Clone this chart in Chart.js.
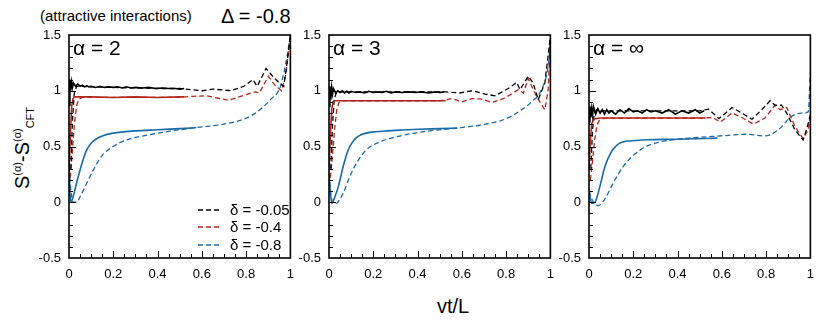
<!DOCTYPE html>
<html>
<head>
<meta charset="utf-8">
<script src="https://cdn.jsdelivr.net/npm/chart.js@4.4.1/dist/chart.umd.min.js"></script>
<style>
  body { margin: 0; background: #fff; font-family: "Liberation Sans", Arial, sans-serif; }
  #wrap { position: relative; width: 830px; height: 329px; overflow: hidden; }
  canvas { position: absolute; top: 0; }
  .txt { position: absolute; white-space: nowrap; color: #000; line-height: 1; }
  #ytitle { position: absolute; left: 0; top: 0; white-space: nowrap; font-size: 20px; line-height: 1;
            transform: translate(-50%, -50%) rotate(-90deg); }
  #ytitle sup, #ytitle sub { font-size: 11px; line-height: 0; }
</style>
</head>
<body>
<div id="wrap">
  <div class="txt" style="left:40px; top:8px; font-size:15px;">(attractive interactions)</div>
  <div class="txt" style="left:221px; top:6px; font-size:20px;">Δ = -0.8</div>
  <div style="position:absolute; left:22px; top:148px; width:0; height:0;">
    <div id="ytitle">S<sup>(α)</sup>-S<sup>(α)</sup><sub>CFT</sub></div>
  </div>
  <div class="txt" style="left:437px; top:296px; font-size:20px;">vt/L</div>
  <canvas id="c1" width="268" height="283" style="left:35px"></canvas>
  <canvas id="c2" width="268" height="283" style="left:295px"></canvas>
  <canvas id="c3" width="268" height="283" style="left:555px"></canvas>
</div>
<script>
// legend / colours
const deltaLabels = ['δ = -0.05', 'δ = -0.4', 'δ = -0.8']
const deltaColors = ['#000000', '#b3261c', '#1a6aa8']
const panelLabels = ['α = 2', 'α = 3', 'α = ∞']
const xTicks = [0, 0.2, 0.4, 0.6, 0.8, 1]
const yTicks = [-0.5, 0, 0.5, 1, 1.5]

// shared x grid for the noisy solid black curves
const blackSolidX = [0, 0.004, 0.008, 0.012, 0.016, 0.02, 0.03, 0.04, 0.05, 0.06, 0.07, 0.08, 0.09, 0.1, 0.12, 0.14, 0.16, 0.18, 0.2, 0.22, 0.24, 0.26, 0.28, 0.3, 0.33, 0.36, 0.39, 0.42, 0.45, 0.48, 0.5, 0.52]

// alpha = 2
const a2BlackSolidY = [0.87, 1.1, 1.0, 1.08, 1.03, 1.07, 1.04, 1.06, 1.04, 1.05, 1.035, 1.045, 1.035, 1.04, 1.03, 1.04, 1.03, 1.035, 1.03, 1.035, 1.025, 1.035, 1.025, 1.03, 1.025, 1.03, 1.02, 1.025, 1.02, 1.02, 1.015, 1.02]
const a2BlackDashX = [0.008, 0.016, 0.024, 0.035, 0.05, 0.1, 0.2, 0.3, 0.4, 0.5, 0.55, 0.6, 0.65, 0.73, 0.79, 0.83, 0.85, 0.89, 0.92, 0.95, 0.97, 0.985, 1.0]
const a2BlackDashY = [0.3, 0.75, 0.98, 1.04, 1.04, 1.035, 1.03, 1.025, 1.02, 1.02, 1.01, 1.0, 1.015, 1.0, 1.04, 1.1, 1.04, 1.2, 1.13, 1.07, 1.04, 1.25, 1.5]
const a2RedSolidX = [0, 0.006, 0.012, 0.018, 0.025, 0.04, 0.1, 0.2, 0.3, 0.4, 0.5, 0.52]
const a2RedSolidY = [0.28, 0.6, 0.86, 0.93, 0.945, 0.945, 0.945, 0.94, 0.945, 0.94, 0.945, 0.945]
const a2RedDashX = [0.006, 0.015, 0.025, 0.035, 0.045, 0.06, 0.1, 0.2, 0.3, 0.4, 0.5, 0.56, 0.62, 0.67, 0.72, 0.76, 0.8, 0.84, 0.86, 0.9, 0.93, 0.96, 0.98, 1.0]
const a2RedDashY = [0.22, 0.45, 0.72, 0.87, 0.925, 0.94, 0.94, 0.94, 0.94, 0.94, 0.94, 0.95, 0.955, 0.935, 0.915, 0.94, 0.965, 0.99, 0.98, 1.13, 1.05, 1.0, 1.15, 1.5]
const a2BlueSolidX = [0, 0.008, 0.02, 0.035, 0.05, 0.065, 0.08, 0.1, 0.125, 0.15, 0.2, 0.3, 0.4, 0.5, 0.575]
const a2BlueSolidY = [0.3, 0.0, 0.06, 0.18, 0.29, 0.39, 0.47, 0.53, 0.57, 0.595, 0.62, 0.64, 0.65, 0.66, 0.67]
const a2BlueDashX = [0, 0.01, 0.02, 0.035, 0.05, 0.08, 0.11, 0.15, 0.2, 0.26, 0.35, 0.45, 0.575, 0.7, 0.79, 0.85, 0.91, 0.955, 0.985, 1.0]
const a2BlueDashY = [0.3, 0.08, 0.0, 0.0, 0.05, 0.17, 0.29, 0.42, 0.5, 0.56, 0.6, 0.635, 0.67, 0.7, 0.745, 0.81, 0.92, 1.04, 1.31, 1.5]

// alpha = 3
const a3BlackSolidY = [0.86, 1.04, 0.92, 1.03, 0.97, 1.02, 0.98, 1.0, 0.985, 1.0, 0.98, 0.995, 0.98, 0.995, 0.985, 0.99, 0.98, 0.995, 0.985, 0.99, 0.985, 0.995, 0.98, 0.99, 0.985, 0.99, 0.985, 0.99, 0.98, 0.99, 0.985, 0.99]
const a3BlackDashX = [0.008, 0.016, 0.024, 0.035, 0.05, 0.1, 0.2, 0.3, 0.4, 0.5, 0.53, 0.59, 0.646, 0.706, 0.75, 0.81, 0.848, 0.863, 0.9, 0.922, 0.945, 0.975, 1.0]
const a3BlackDashY = [0.3, 0.7, 0.93, 0.99, 0.99, 0.99, 0.99, 0.99, 0.99, 0.99, 0.99, 0.98, 1.0, 0.97, 0.955, 1.02, 1.075, 1.01, 1.13, 1.07, 0.92, 1.07, 1.49]
const a3RedSolidX = [0, 0.006, 0.012, 0.018, 0.027, 0.04, 0.1, 0.2, 0.3, 0.4, 0.5, 0.527]
const a3RedSolidY = [0.29, 0.6, 0.83, 0.9, 0.91, 0.91, 0.91, 0.91, 0.91, 0.91, 0.91, 0.91]
const a3RedDashX = [0.006, 0.015, 0.025, 0.035, 0.045, 0.06, 0.1, 0.2, 0.3, 0.4, 0.5, 0.557, 0.6, 0.646, 0.69, 0.736, 0.795, 0.855, 0.878, 0.9, 0.937, 0.975, 0.99, 1.0]
const a3RedDashY = [0.22, 0.4, 0.65, 0.83, 0.895, 0.91, 0.91, 0.91, 0.91, 0.91, 0.91, 0.93, 0.9, 0.93, 0.925, 0.895, 0.935, 1.01, 0.98, 1.11, 0.95, 0.83, 1.01, 1.46]
const a3BlueSolidX = [0, 0.012, 0.025, 0.042, 0.064, 0.08, 0.094, 0.11, 0.124, 0.145, 0.169, 0.21, 0.258, 0.33, 0.407, 0.5, 0.58]
const a3BlueSolidY = [0.26, -0.01, 0.04, 0.14, 0.32, 0.43, 0.5, 0.55, 0.58, 0.605, 0.62, 0.632, 0.64, 0.648, 0.655, 0.66, 0.665]
const a3BlueDashX = [0, 0.01, 0.02, 0.034, 0.05, 0.064, 0.094, 0.124, 0.169, 0.228, 0.333, 0.452, 0.58, 0.706, 0.795, 0.855, 0.915, 0.96, 0.99, 1.0]
const a3BlueDashY = [0.25, 0.05, -0.01, -0.01, 0.03, 0.08, 0.23, 0.35, 0.47, 0.54, 0.6, 0.64, 0.665, 0.7, 0.745, 0.81, 0.9, 1.01, 1.22, 1.43]

// alpha = infinity
const aInfBlackSolidY = [0.72, 0.86, 0.76, 0.84, 0.78, 0.86, 0.79, 0.84, 0.8, 0.83, 0.79, 0.83, 0.8, 0.82, 0.79, 0.83, 0.8, 0.84, 0.81, 0.82, 0.8, 0.83, 0.81, 0.82, 0.8, 0.83, 0.79, 0.82, 0.8, 0.83, 0.8, 0.82]
const aInfBlackDashX = [0.008, 0.016, 0.024, 0.035, 0.05, 0.1, 0.2, 0.3, 0.4, 0.5, 0.54, 0.587, 0.646, 0.69, 0.736, 0.78, 0.818, 0.84, 0.87, 0.893, 0.93, 0.967, 0.982, 1.0]
const aInfBlackDashY = [0.3, 0.65, 0.8, 0.83, 0.82, 0.82, 0.82, 0.82, 0.82, 0.82, 0.835, 0.75, 0.85, 0.8, 0.745, 0.83, 0.91, 0.87, 0.87, 0.8, 0.65, 0.56, 0.65, 0.78]
const aInfRedSolidX = [0, 0.006, 0.012, 0.02, 0.03, 0.05, 0.1, 0.2, 0.3, 0.4, 0.5, 0.527]
const aInfRedSolidY = [0.3, 0.55, 0.7, 0.74, 0.75, 0.755, 0.755, 0.755, 0.755, 0.755, 0.755, 0.755]
const aInfRedDashX = [0.006, 0.015, 0.025, 0.035, 0.045, 0.06, 0.1, 0.2, 0.3, 0.4, 0.5, 0.557, 0.594, 0.646, 0.69, 0.743, 0.795, 0.84, 0.863, 0.893, 0.93, 0.967, 0.99, 1.0]
const aInfRedDashY = [0.2, 0.35, 0.55, 0.68, 0.73, 0.75, 0.755, 0.755, 0.755, 0.755, 0.755, 0.76, 0.72, 0.8, 0.76, 0.7, 0.755, 0.87, 0.83, 0.85, 0.68, 0.57, 0.65, 0.78]
const aInfBlueSolidX = [0, 0.012, 0.027, 0.049, 0.072, 0.1, 0.12, 0.139, 0.16, 0.184, 0.258, 0.407, 0.58]
const aInfBlueSolidY = [0.11, -0.01, 0.0, 0.14, 0.32, 0.45, 0.5, 0.53, 0.545, 0.55, 0.56, 0.565, 0.575]
const aInfBlueDashX = [0, 0.02, 0.042, 0.072, 0.109, 0.154, 0.2, 0.258, 0.333, 0.452, 0.557, 0.63, 0.706, 0.795, 0.855, 0.915, 0.96, 0.99, 1.0]
const aInfBlueDashY = [0.1, 0.0, -0.03, 0.03, 0.17, 0.32, 0.42, 0.5, 0.545, 0.575, 0.59, 0.6, 0.61, 0.595, 0.65, 0.77, 0.8, 0.81, 1.16]

const FONT = '"Liberation Sans", Arial, sans-serif'

function pts(xs, ys) {
  return xs.map((x, i) => ({ x: x, y: ys[i] }))
}

function line(xs, ys, color, dashed, smooth) {
  return {
    data: pts(xs, ys),
    borderColor: color,
    borderWidth: dashed ? 1.3 : 1.6,
    borderDash: dashed ? [5, 3] : [],
    pointRadius: 0,
    tension: 0,
    cubicInterpolationMode: smooth ? 'monotone' : 'default',
    fill: false
  }
}

// frame, inward ticks, panel label and (optionally) the legend
const panelDecor = {
  id: 'panelDecor',
  afterDraw(chart, args, opts) {
    const { ctx, chartArea: a } = chart
    const x = chart.scales.x
    const y = chart.scales.y
    ctx.save()
    ctx.strokeStyle = '#000'
    ctx.lineWidth = 1
    for (let i = 1; i < 20; i++) {
      const px = Math.round(x.getPixelForValue(i / 20)) + 0.5
      const len = i % 4 === 0 ? 7 : 4
      ctx.beginPath(); ctx.moveTo(px, a.bottom); ctx.lineTo(px, a.bottom - len); ctx.stroke()
    }
    for (let i = 1; i < 20; i++) {
      const py = Math.round(y.getPixelForValue(-0.5 + i / 10)) + 0.5
      const len = i % 5 === 0 ? 7 : 4
      ctx.beginPath(); ctx.moveTo(a.left, py); ctx.lineTo(a.left + len, py); ctx.stroke()
    }
    ctx.lineWidth = 1.6
    ctx.strokeRect(a.left, a.top, a.right - a.left, a.bottom - a.top)

    ctx.fillStyle = '#000'
    ctx.font = '21px ' + FONT
    ctx.textBaseline = 'middle'
    ctx.textAlign = 'left'
    ctx.fillText(opts.label, a.left + 4, a.top + 14)

    if (opts.legend) {
      ctx.font = '15px ' + FONT
      const rows = [a.bottom - 48, a.bottom - 31, a.bottom - 13]
      deltaLabels.forEach((lab, i) => {
        ctx.strokeStyle = deltaColors[i]
        ctx.lineWidth = 1.3
        ctx.setLineDash([5, 3])
        ctx.beginPath(); ctx.moveTo(a.left + 129, rows[i]); ctx.lineTo(a.left + 150, rows[i]); ctx.stroke()
        ctx.setLineDash([])
        ctx.fillStyle = '#000'
        ctx.fillText(lab, a.left + 161, rows[i] + 1)
      })
    }
    ctx.restore()
  }
}

function plain(v) {
  return String(Math.round(v * 10) / 10)
}

function makePanel(id, label, datasets, legend) {
  return new Chart(document.getElementById(id), {
    type: 'line',
    data: { datasets: datasets },
    plugins: [panelDecor],
    options: {
      responsive: false,
      animation: false,
      devicePixelRatio: 1,
      events: [],
      layout: { padding: { top: 35, right: 8, left: 0, bottom: 0 } },
      plugins: {
        legend: { display: false },
        tooltip: { enabled: false },
        panelDecor: { label: label, legend: legend }
      },
      scales: {
        x: {
          type: 'linear',
          min: 0,
          max: 1,
          afterFit(scale) { scale.height = 25 },
          afterBuildTicks(scale) { scale.ticks = xTicks.map(v => ({ value: v })) },
          grid: { display: false, drawTicks: false },
          border: { display: false },
          ticks: { autoSkip: false, maxRotation: 0, padding: 9, color: '#000', font: { family: FONT, size: 13 }, callback: plain }
        },
        y: {
          type: 'linear',
          min: -0.5,
          max: 1.5,
          afterFit(scale) { scale.width = 34 },
          afterBuildTicks(scale) { scale.ticks = yTicks.map(v => ({ value: v })) },
          grid: { display: false, drawTicks: false },
          border: { display: false },
          ticks: { padding: 8, color: '#000', font: { family: FONT, size: 13 }, callback: plain }
        }
      }
    }
  })
}

const [cBlack, cRed, cBlue] = deltaColors

makePanel('c1', panelLabels[0], [
  line(blackSolidX, a2BlackSolidY, cBlack, false, false),
  line(a2RedSolidX, a2RedSolidY, cRed, false, false),
  line(a2BlueSolidX, a2BlueSolidY, cBlue, false, true),
  line(a2BlackDashX, a2BlackDashY, cBlack, true, false),
  line(a2RedDashX, a2RedDashY, cRed, true, false),
  line(a2BlueDashX, a2BlueDashY, cBlue, true, true)
], true)

makePanel('c2', panelLabels[1], [
  line(blackSolidX, a3BlackSolidY, cBlack, false, false),
  line(a3RedSolidX, a3RedSolidY, cRed, false, false),
  line(a3BlueSolidX, a3BlueSolidY, cBlue, false, true),
  line(a3BlackDashX, a3BlackDashY, cBlack, true, false),
  line(a3RedDashX, a3RedDashY, cRed, true, false),
  line(a3BlueDashX, a3BlueDashY, cBlue, true, true)
], false)

makePanel('c3', panelLabels[2], [
  line(blackSolidX, aInfBlackSolidY, cBlack, false, false),
  line(aInfRedSolidX, aInfRedSolidY, cRed, false, false),
  line(aInfBlueSolidX, aInfBlueSolidY, cBlue, false, true),
  line(aInfBlackDashX, aInfBlackDashY, cBlack, true, false),
  line(aInfRedDashX, aInfRedDashY, cRed, true, false),
  line(aInfBlueDashX, aInfBlueDashY, cBlue, true, true)
], false)
</script>
</body>
</html>
